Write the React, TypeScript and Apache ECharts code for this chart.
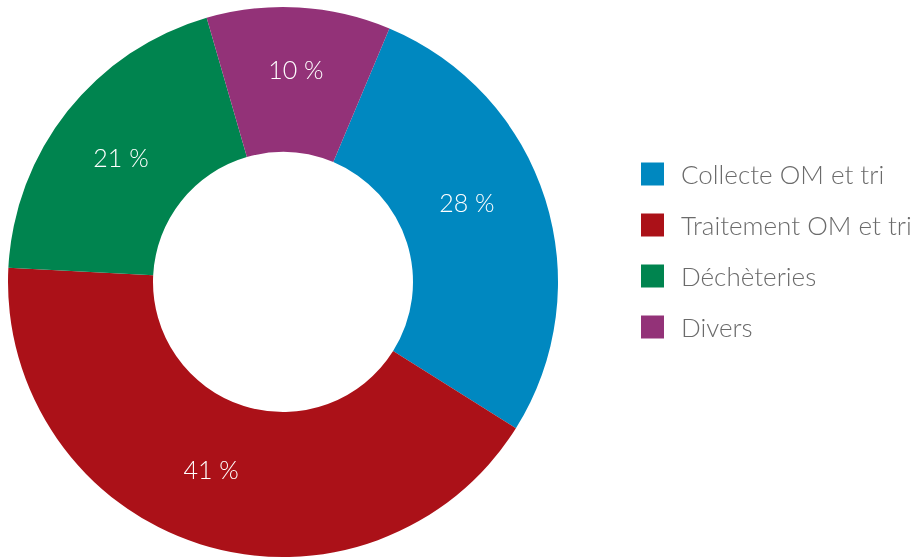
import React, { useEffect, useRef } from "react";
import * as echarts from "echarts";

const categories = ["Collecte OM et tri", "Traitement OM et tri", "Déchèteries", "Divers"];
const values = [27.6, 41.9, 19.7, 10.8];
const percentLabels = ["28 %", "41 %", "21 %", "10 %"];
const colors = ["#0088C0", "#AB1118", "#00844F", "#933278"];
const labelOffsets = [
  [-12, -18],
  [-10, -9],
  [-1, 3],
  [1, -8],
];

export default function App() {
  const ref = useRef<HTMLDivElement>(null);
  useEffect(() => {
    if (!ref.current) return;
    const chart = echarts.init(ref.current, null, { renderer: "svg" });
    chart.setOption({
      animation: false,
      color: colors,
      legend: {
        orient: "vertical",
        left: 636,
        top: 156,
        itemWidth: 23,
        itemHeight: 23,
        itemGap: 25,
        icon: "rect",
        selectedMode: false,
        data: categories,
        textStyle: {
          fontFamily: "Lato",
          fontWeight: 300,
          fontSize: 26,
          color: "#6b6b6b",
          padding: [0, 0, 0, 12],
        },
      },
      series: [
        {
          type: "pie",
          center: [283, 282],
          radius: [130, 275],
          startAngle: 67.24,
          clockwise: true,
          avoidLabelOverlap: false,
          emphasis: { disabled: true },
          label: {
            show: true,
            position: "inside",
            color: "#ffffff",
            fontFamily: "Lato",
            fontWeight: 300,
            fontSize: 25,
            formatter: (p: any) => percentLabels[p.dataIndex],
          },
          labelLine: { show: false },
          data: categories.map((name, i) => ({
            name,
            value: values[i],
            label: { offset: labelOffsets[i] },
          })),
        },
      ],
    });
    return () => chart.dispose();
  }, []);
  return (
    <div
      ref={ref}
      style={{ position: "fixed", left: 0, top: 0, width: 920, height: 558 }}
    />
  );
}
